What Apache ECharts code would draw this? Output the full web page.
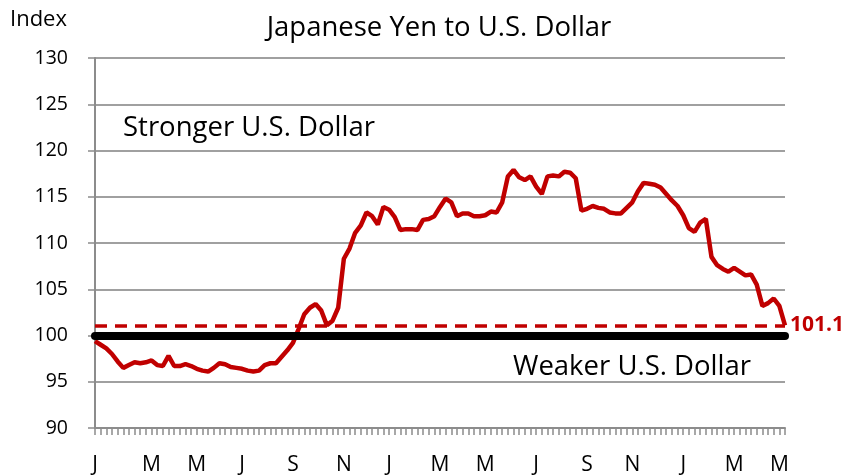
<!DOCTYPE html>
<html lang="en">
  <head>
    <meta charset="UTF-8" />
    <title>Japanese Yen to U.S. Dollar</title>
    <script src="https://cdn.jsdelivr.net/npm/echarts@6.0.0/dist/echarts.min.js"></script>
    <style>
      html, body { margin: 0; padding: 0; background: #fff; }
    </style>
  </head>
  <body>
    <div id="chart" style="width: 851px; height: 476px"></div>

    <script>
      // weekly index values
      var yenIndex = [
        99.4, 99.0, 98.6, 98.0, 97.2, 96.5, 96.8, 97.1, 97.0, 97.1,
        97.3, 96.8, 96.7, 97.8, 96.7, 96.7, 96.9, 96.7, 96.4, 96.2,
        96.1, 96.5, 97.0, 96.9, 96.6, 96.5, 96.4, 96.2, 96.1, 96.2,
        96.8, 97.0, 97.0, 97.7, 98.4, 99.2, 100.7, 102.3, 103.0, 103.4,
        102.7, 101.1, 101.6, 103.0, 108.3, 109.4, 111.1, 111.9, 113.3, 112.9,
        112.0, 113.9, 113.6, 112.8, 111.4, 111.5, 111.5, 111.4, 112.5, 112.6,
        112.9, 113.9, 114.8, 114.4, 112.9, 113.2, 113.2, 112.9, 112.9, 113.0,
        113.4, 113.3, 114.4, 117.2, 117.9, 117.1, 116.8, 117.2, 116.1, 115.3,
        117.2, 117.3, 117.2, 117.7, 117.6, 117.0, 113.5, 113.7, 114.0, 113.8,
        113.7, 113.3, 113.2, 113.2, 113.8, 114.4, 115.6, 116.5, 116.4, 116.3,
        116.0, 115.3, 114.6, 114.0, 113.0, 111.6, 111.2, 112.2, 112.6, 108.5,
        107.6, 107.2, 106.9, 107.3, 106.9, 106.5, 106.6, 105.5, 103.2, 103.5,
        104.0, 103.2, 101.1
      ]

      // month letters and the week where each one is printed
      var monthLetters = ["J", "M", "M", "J", "S", "N", "J", "M", "M", "J", "S", "N", "J", "M", "M"]
      var monthWeek = [0, 10, 18, 26, 35, 44, 52, 61, 69, 78, 87, 95, 104, 113, 121]

      var baseLevel = 100
      var latestLevel = 101.1

      var xLabels = yenIndex.map(function () { return "" })
      monthWeek.forEach(function (w, k) { xLabels[w] = monthLetters[k] })

      var font = "'Open Sans', sans-serif"
      var chart = echarts.init(document.getElementById("chart"))

      var option = {
        animation: false,
        title: {
          text: "Japanese Yen to U.S. Dollar",
          left: 434,
          textAlign: "center",
          top: 9,
          textStyle: { fontFamily: font, fontSize: 27.5, fontWeight: "normal", color: "#000" }
        },
        graphic: [
          { type: "text", left: 10, top: 9, style: { text: "Index", font: "22px " + font, fill: "#000" } },
          { type: "text", left: 123, top: 114, style: { text: "Stronger U.S. Dollar", font: "27.5px " + font, fill: "#000" } },
          { type: "text", left: 513, top: 353, style: { text: "Weaker U.S. Dollar", font: "27.5px " + font, fill: "#000" } }
        ],
        grid: { left: 95, right: 66, top: 58, bottom: 46 },
        xAxis: {
          type: "category",
          boundaryGap: false,
          data: xLabels,
          axisLine: { lineStyle: { color: "#8c8c8c", width: 2 } },
          axisTick: { interval: 0, length: 7, lineStyle: { color: "#8c8c8c", width: 1.5 } },
          axisLabel: { interval: 0, margin: 27, fontFamily: font, fontSize: 21, color: "#000" },
          splitLine: { show: false }
        },
        yAxis: {
          type: "value",
          min: 90,
          max: 130,
          interval: 5,
          axisLine: { show: true, lineStyle: { color: "#8c8c8c", width: 2 } },
          axisTick: { show: true, length: 7, lineStyle: { color: "#8c8c8c", width: 1.5 } },
          axisLabel: { margin: 27, fontFamily: font, fontSize: 19.5, color: "#000" },
          splitLine: { lineStyle: { color: "#a0a0a0", width: 2 } }
        },
        series: [
          {
            type: "line",
            data: yenIndex,
            symbol: "none",
            lineStyle: { color: "#c00000", width: 4.5 },
            z: 3,
            markLine: {
              silent: true,
              symbol: "none",
              data: [
                {
                  yAxis: baseLevel,
                  lineStyle: { color: "#000", width: 8, type: "solid", cap: "round" },
                  label: { show: false }
                },
                {
                  yAxis: latestLevel,
                  lineStyle: { color: "#c00000", width: 3.5, type: [12, 8] },
                  label: {
                    show: true,
                    position: "end",
                    distance: 5,
                    formatter: "101.1",
                    fontFamily: font,
                    fontSize: 21,
                    fontWeight: "bold",
                    color: "#c00000"
                  }
                }
              ]
            }
          }
        ]
      }
      chart.setOption(option)
    </script>
  </body>
</html>
